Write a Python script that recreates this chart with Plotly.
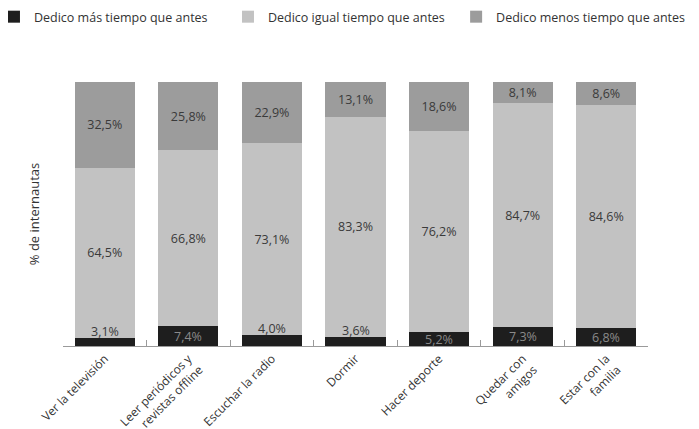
import plotly.graph_objects as go

categories = [
    "Ver la televisión",
    "Leer periódicos y<br>revistas offline",
    "Escuchar la radio",
    "Dormir",
    "Hacer deporte",
    "Quedar con<br>amigos",
    "Estar con la<br>familia",
]
mas_tiempo = [3.1, 7.4, 4.0, 3.6, 5.2, 7.3, 6.8]
igual_tiempo = [64.5, 66.8, 73.1, 83.3, 76.2, 84.7, 84.6]
menos_tiempo = [32.5, 25.8, 22.9, 13.1, 18.6, 8.1, 8.6]

series_names = [
    "Dedico más tiempo que antes",
    "Dedico igual tiempo que antes",
    "Dedico menos tiempo que antes",
]
colors = ["#1e1e1e", "#c2c2c2", "#9c9c9c"]

FONT = "Open Sans"
TXT = "#3a3a3a"

fig = go.Figure()

# bottom segment: labels added as annotations (small bars put the text above)
fig.add_trace(go.Bar(
    x=categories, y=mas_tiempo, name=series_names[0], legend="legend",
    marker=dict(color=colors[0], line=dict(width=0)),
))
for vals, name, col, leg in [(igual_tiempo, series_names[1], colors[1], "legend2"),
                             (menos_tiempo, series_names[2], colors[2], "legend3")]:
    fig.add_trace(go.Bar(
        x=categories, y=vals, name=name, legend=leg,
        marker=dict(color=col, line=dict(width=0)),
        text=vals, texttemplate="%{y:.1f}%", textposition="inside",
        insidetextanchor="middle", textangle=0, constraintext="none",
        textfont=dict(color=TXT, size=12.5, family=FONT),
    ))

for cat, v in zip(categories, mas_tiempo):
    label = f"{v:.1f}%".replace(".", ",")
    if v >= 5:
        fig.add_annotation(x=cat, y=v / 2, text=label, showarrow=False,
                           yanchor="middle",
                           font=dict(color="#8a8a8a", size=12.5, family=FONT))
    else:
        fig.add_annotation(x=cat, y=v, text=label, showarrow=False,
                           yanchor="bottom", yshift=-4,
                           font=dict(color=TXT, size=12.5, family=FONT))

# one legend per series so each entry can sit where the original has it
leg_style = dict(orientation="h", xanchor="left", y=1.246, yanchor="middle",
                 font=dict(size=12.5, color="#333333"), itemwidth=30,
                 bgcolor="rgba(0,0,0,0)", visible=True)

# page body adds an 8px offset, so the figure is 8px smaller
fig.update_layout(
    barmode="stack",
    bargap=0.28,
    separators=",.",
    showlegend=True,
    width=691, height=421,
    margin=dict(l=55, r=51, t=74, b=83, autoexpand=False),
    paper_bgcolor="white", plot_bgcolor="white",
    font=dict(family=FONT, size=13, color="#333333"),
    legend=dict(x=-0.118, **leg_style),
    legend2=dict(x=0.282, **leg_style),
    legend3=dict(x=0.672, **leg_style),
    xaxis=dict(
        showline=True, linecolor="#9a9a9a", linewidth=1,
        ticks="inside", ticklen=6, tickcolor="#9a9a9a", tickson="boundaries",
        tickangle=-45, tickfont=dict(size=12, color="#333333"),
        showgrid=False,
    ),
    yaxis=dict(
        range=[0, 100.1], showticklabels=False, showgrid=False, zeroline=False,
        showline=False, ticks="",
        title=dict(text="% de internautas", standoff=19,
                   font=dict(size=13, color="#333333")),
    ),
)

fig.write_html("out.html")
